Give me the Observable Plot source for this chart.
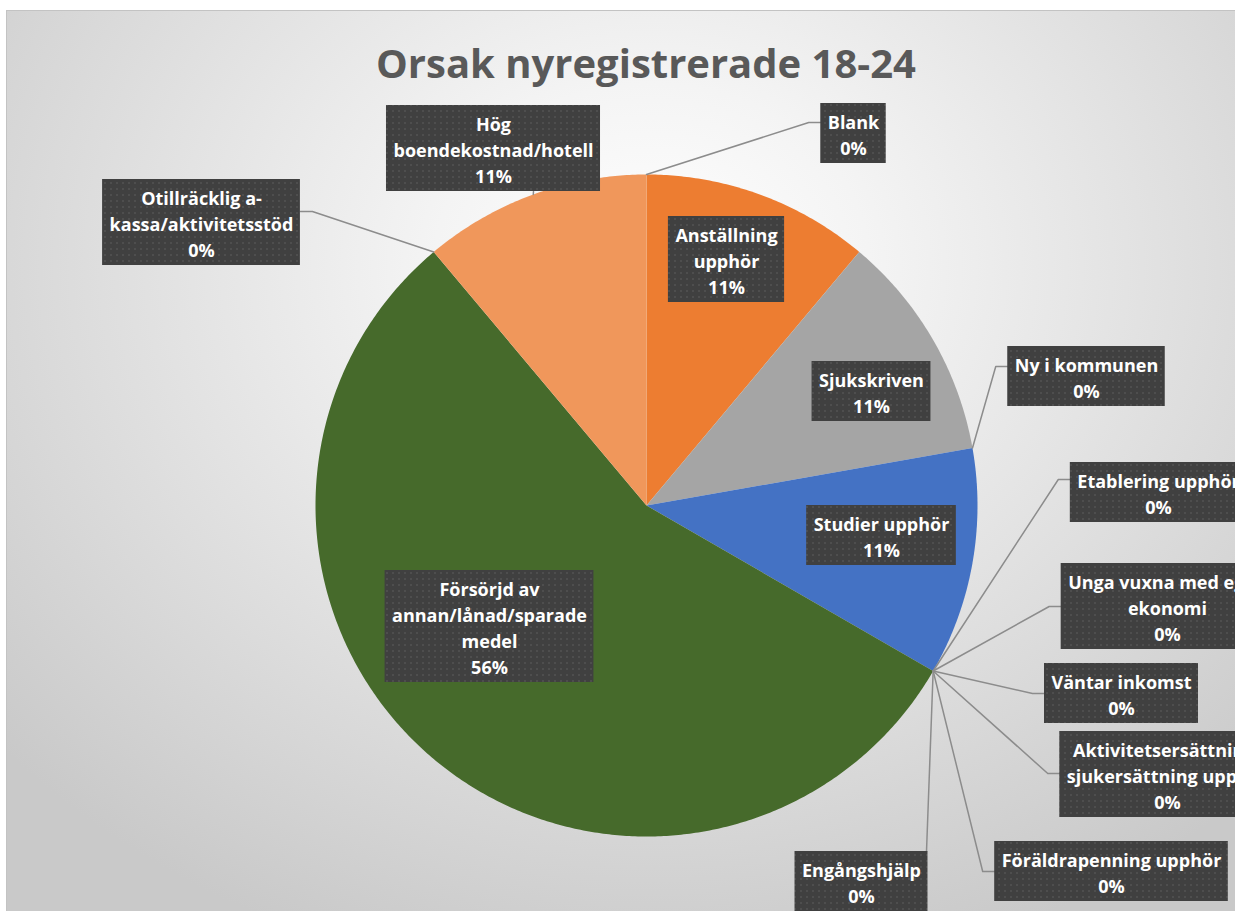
<!DOCTYPE html>
<html><head><meta charset="utf-8">
<script src="https://cdn.jsdelivr.net/npm/d3@7"></script>
<script src="https://cdn.jsdelivr.net/npm/@observablehq/plot@0.6"></script>
<style>
html,body{margin:0;padding:0;background:#fff;}
#wrap{position:relative;width:1235px;height:911px;overflow:hidden;}
#bg{position:absolute;left:6px;top:10px;width:1240px;height:910px;border-top:1px solid #c3c3c3;border-left:1px solid #c3c3c3;
 background:radial-gradient(ellipse 70% 80% at 52% 28%, #ffffff 0%, #f4f4f4 25%, #e0e0e0 60%, #c9c9c9 100%);}
#title{position:absolute;left:0;width:1292px;top:35px;text-align:center;font:bold 40px "Open Sans",sans-serif;color:#595959;white-space:nowrap;}
#chart{position:absolute;left:0;top:0;}
</style></head><body>
<div id="wrap"><div id="bg"></div><div id="title">Orsak nyregistrerade 18-24</div><div id="chart"></div></div>
<script>
// ---- data (clockwise from 12 o'clock) ----
const categories = [
  "Blank",
  "Anställning upphör",
  "Sjukskriven",
  "Ny i kommunen",
  "Studier upphör",
  "Etablering upphör",
  "Unga vuxna med egen ekonomi",
  "Väntar inkomst",
  "Aktivitetsersättning/sjukersättning upphör",
  "Föräldrapenning upphör",
  "Engångshjälp",
  "Försörjd av annan/lånad/sparade medel",
  "Otillräcklig a-kassa/aktivitetsstöd",
  "Hög boendekostnad/hotell"
];
const counts = [0, 1, 1, 0, 1, 0, 0, 0, 0, 0, 0, 5, 0, 1];
// wrapped label lines as shown in the chart
const wrappedNames = [
  "Blank",
  "Anställning\nupphör",
  "Sjukskriven",
  "Ny i kommunen",
  "Studier upphör",
  "Etablering upphör",
  "Unga vuxna med egen\nekonomi",
  "Väntar inkomst",
  "Aktivitetsersättning/\nsjukersättning upphör",
  "Föräldrapenning upphör",
  "Engångshjälp",
  "Försörjd av\nannan/lånad/sparade\nmedel",
  "Otillräcklig a-\nkassa/aktivitetsstöd",
  "Hög\nboendekostnad/hotell"
];

// ---- styles ----
const palette = {
  "Anställning upphör": "#ED7D31",
  "Sjukskriven": "#A5A5A5",
  "Studier upphör": "#4472C4",
  "Försörjd av annan/lånad/sparade medel": "#466A2B",
  "Hög boendekostnad/hotell": "#F0975B"
};

// ---- layout (pixel offsets relative to pie centre) ----
const W = 1235, H = 911, CX = 646, CY = 505, R = 331;
const FONT = '"Open Sans", sans-serif', FS = 18, LH = 26;
// label box centre (dx,dy); leader attach side and attach coordinate
const labelLayout = [
  {dx: 207, dy: -372, side: "left", a: -383},
  {dx: 80, dy: -246},
  {dx: 225, dy: -114},
  {dx: 440, dy: -129, side: "left", a: -139},
  {dx: 235, dy: 30},
  {dx: 512, dy: -13, side: "left", a: -26},
  {dx: 521, dy: 101, side: "left", a: 101},
  {dx: 475, dy: 188, side: "left", a: 188},
  {dx: 521, dy: 269, side: "left", a: 268},
  {dx: 465, dy: 366, side: "left", a: 366},
  {dx: 215, dy: 376, side: "top", a: 280},
  {dx: -157, dy: 121},
  {dx: -445, dy: -283, side: "right", a: -294},
  {dx: -153, dy: -357, side: "bottom", a: -113}
];

const rows = categories.map((name, i) => ({name, value: counts[i], wrapped: wrappedNames[i], i}));
const total = d3.sum(counts);
const arcs = d3.pie().sort(null).value(d => d.value)(rows);
const pt = (a, r) => ({x: r * Math.sin(a), y: -r * Math.cos(a)});

// slice polygons
const sliceMarks = arcs.filter(a => a.value > 0).map(a => {
  const n = Math.max(2, Math.ceil((a.endAngle - a.startAngle) / (Math.PI / 360)));
  const pts = [{x: 0, y: 0}];
  for (let k = 0; k <= n; k++) pts.push(pt(a.startAngle + (a.endAngle - a.startAngle) * k / n, R));
  return Plot.line(pts, {x: "x", y: "y", fill: palette[a.data.name], stroke: null, curve: "linear"});
});

// text measurement
const ctx = document.createElement("canvas").getContext("2d");
ctx.font = `bold ${FS}px ${FONT}`;
const labels = arcs.map((a, i) => {
  const L = labelLayout[i];
  const pct = Math.round(a.value / total * 100) + "%";
  const text = a.data.wrapped + "\n" + pct;
  const lines = text.split("\n");
  const w = d3.max(lines, s => ctx.measureText(s).width) + 14;
  const h = lines.length * LH + 8;
  const mid = a.value > 0 ? (a.startAngle + a.endAngle) / 2 : a.startAngle;
  return {name: a.data.name, text, cx: L.dx, cy: L.dy, w, h, side: L.side, att: L.a, mid};
});

// leader lines
const leaders = [];
labels.filter(l => l.side).forEach(l => {
  const p = pt(l.mid, R);
  let pts;
  if (l.side === "left") {
    const ex = l.cx - l.w / 2;
    pts = [p, {x: ex - 12, y: l.att}, {x: ex, y: l.att}];
  } else if (l.side === "right") {
    const ex = l.cx + l.w / 2;
    pts = [p, {x: ex + 12, y: l.att}, {x: ex, y: l.att}];
  } else if (l.side === "top") {
    pts = [p, {x: l.att, y: l.cy - l.h / 2}];
  } else {
    pts = [p, {x: l.att, y: l.cy + l.h / 2}];
  }
  pts.forEach(q => leaders.push({...q, name: l.name}));
});

const svg = Plot.plot({
  width: W, height: H,
  margin: 0,
  x: {domain: [-CX, W - CX], range: [0, W], axis: null},
  y: {domain: [-CY, H - CY], range: [0, H], axis: null},
  style: {background: "transparent", overflow: "visible"},
  marks: [
    ...sliceMarks,
    Plot.line(leaders, {x: "x", y: "y", z: "name", stroke: "#8c8c8c", strokeWidth: 1.5}),
    Plot.rect(labels, {x1: d => d.cx - d.w / 2, x2: d => d.cx + d.w / 2, y1: d => d.cy - d.h / 2, y2: d => d.cy + d.h / 2,
      fill: "url(#dots)", ariaLabel: "label-box"}),
    Plot.text(labels, {x: "cx", y: "cy", text: "text", fill: "white", fontWeight: "bold", fontSize: FS,
      fontFamily: FONT, lineHeight: LH / FS})
  ]
});

const defs = d3.select(svg).insert("defs", ":first-child");
const pat = defs.append("pattern").attr("id", "dots").attr("width", 6).attr("height", 6).attr("patternUnits", "userSpaceOnUse");
pat.append("rect").attr("width", 6).attr("height", 6).attr("fill", "#404040");
pat.append("rect").attr("x", 2).attr("y", 2).attr("width", 2).attr("height", 2).attr("fill", "#4e4e4e");
const f = defs.append("filter").attr("id", "shadow").attr("x", "-20%").attr("y", "-20%").attr("width", "150%").attr("height", "170%");
f.append("feDropShadow").attr("dx", 3).attr("dy", 4).attr("stdDeviation", 3).attr("flood-color", "#000").attr("flood-opacity", 0.5);
d3.select(svg).selectAll('g[aria-label="label-box"]').attr("filter", "url(#shadow)");

document.getElementById("chart").append(svg);
</script>
</body></html>
